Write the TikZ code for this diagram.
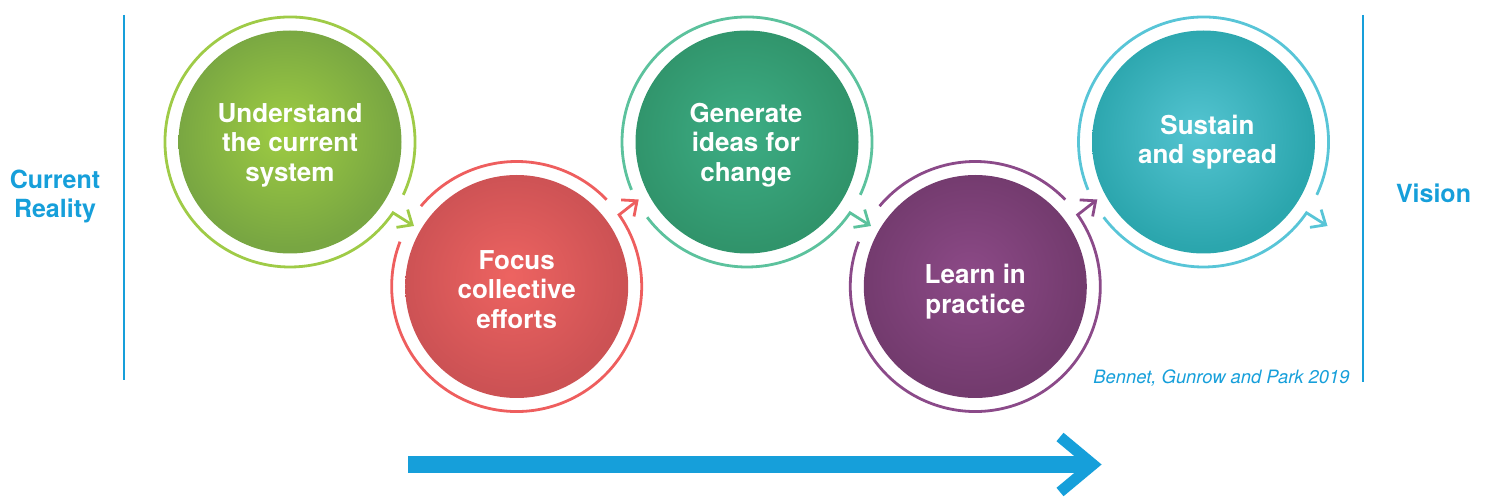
\documentclass[tikz,border=0pt]{standalone}
\usepackage{fontspec}
\setmainfont{TeX Gyre Heros}
\usetikzlibrary{calc,arrows.meta}
\definecolor{vblue}{HTML}{169FDA}
\definecolor{ringG}{HTML}{9FCB47}
\definecolor{ringR}{HTML}{EE5E5E}
\definecolor{ringT}{HTML}{5CC29D}
\definecolor{ringP}{HTML}{8B4A89}
\definecolor{ringC}{HTML}{58C5D7}
\pgfdeclareradialshading{shG}{\pgfpoint{-1.5bp}{2.5bp}}{rgb(0bp)=(0.62,0.80,0.26);rgb(25bp)=(0.47,0.65,0.26);rgb(50bp)=(0.47,0.65,0.26)}
\pgfdeclareradialshading{shR}{\pgfpoint{-1.5bp}{2.5bp}}{rgb(0bp)=(0.93,0.39,0.38);rgb(25bp)=(0.80,0.32,0.33);rgb(50bp)=(0.80,0.32,0.33)}
\pgfdeclareradialshading{shT}{\pgfpoint{-1.5bp}{2.5bp}}{rgb(0bp)=(0.24,0.68,0.52);rgb(25bp)=(0.19,0.58,0.42);rgb(50bp)=(0.19,0.58,0.42)}
\pgfdeclareradialshading{shP}{\pgfpoint{-1.5bp}{2.5bp}}{rgb(0bp)=(0.55,0.29,0.53);rgb(25bp)=(0.45,0.23,0.43);rgb(50bp)=(0.45,0.23,0.43)}
\pgfdeclareradialshading{shC}{\pgfpoint{-1.5bp}{2.5bp}}{rgb(0bp)=(0.33,0.77,0.82);rgb(25bp)=(0.17,0.65,0.68);rgb(50bp)=(0.17,0.65,0.68)}
\begin{document}
\begin{tikzpicture}[x=0.5pt,y=0.5pt,
  ball/.style={circle, inner sep=0pt, minimum size=111.5pt, shade},
  balltext/.style={inner sep=0pt, align=center, text=white,
    font=\fontsize{13}{14.75}\selectfont\bfseries},
  ring/.style={line width=1.4pt},
  ringtip/.style={-{Straight Barb[length=6pt,width=10.5pt]}},
  side/.style={text=vblue, font=\fontsize{12.5}{14.5}\selectfont\bfseries, align=center, inner sep=0pt},
]
\useasboundingbox (0,0) rectangle (1488,498);

% circles
\node[ball, shading=shG] (c1) at (290,356) {};
\node[ball, shading=shR] (c2) at (516.7,211.5) {};
\node[ball, shading=shT] (c3) at (747,356) {};
\node[ball, shading=shP] (c4) at (975.3,211.5) {};
\node[ball, shading=shC] (c5) at (1203.5,356) {};

% circle texts
\node[balltext] (t1) at ($(c1)+(0,-3)$) {Understand\\the current\\system};
\node[balltext] (t2) at ($(c2)+(0,-3)$) {Focus\\collective\\efforts};
\node[balltext] (t3) at ($(c3)+(-1,-3)$) {Generate\\ideas for\\change};
\node[balltext] (t4) at ($(c4)+(0,-5)$) {Learn in\\practice};
\node[balltext] (t5) at ($(c5)+(4,0)$) {Sustain\\and spread};

% rings
\draw[ring, ringG, ringtip] ($(c1)+(-25:125)$) arc[start angle=-25, end angle=325.5, radius=125] -- ($(c1)+(124,-84)$);

\draw[ring, ringR] ($(c2)+(44:125)$) arc[start angle=44, end angle=140, radius=125];
\draw[ring, ringR, ringtip] ($(c2)+(159:125)$) arc[start angle=159, end angle=395, radius=125] -- ($(c2)+(122,87)$);

\draw[ring, ringT] ($(c3)+(-25:125)$) arc[start angle=-25, end angle=202.5, radius=125];
\draw[ring, ringT, ringtip] ($(c3)+(217:125)$) arc[start angle=217, end angle=325.5, radius=125] -- ($(c3)+(124,-84)$);

\draw[ring, ringP] ($(c4)+(44:125)$) arc[start angle=44, end angle=140, radius=125];
\draw[ring, ringP, ringtip] ($(c4)+(159:125)$) arc[start angle=159, end angle=395, radius=125] -- ($(c4)+(122,87)$);

\draw[ring, ringC] ($(c5)+(-25:125)$) arc[start angle=-25, end angle=202.5, radius=125];
\draw[ring, ringC, ringtip] ($(c5)+(217:125)$) arc[start angle=217, end angle=325.5, radius=125] -- ($(c5)+(124,-84)$);

% side lines and labels
\draw[vblue, line width=1.35pt] (124,483) -- (124,118);
\draw[vblue, line width=1.35pt] (1363,483) -- (1363,116);
\node[side] (cr) at (55,302) {Current\\Reality};
\node[side] (vi) at (1433.5,305) {Vision};
\node[anchor=base east, text=vblue, font=\fontsize{9.2}{11}\selectfont\itshape, inner sep=0pt] (cit) at (1350,114) {Bennet, Gunrow and Park 2019};

% bottom arrow
\coordinate (as) at (408,33.5);
\coordinate (ae) at (1093,33.5);
\draw[vblue, line width=8.5pt] (as) -- ($(ae)+(-5,0)$);
\draw[vblue, line width=5.5pt, miter limit=10] ($(ae)+(-33,27.5)$) -- (ae) -- ($(ae)+(-33,-27.5)$);
\end{tikzpicture}
\end{document}
